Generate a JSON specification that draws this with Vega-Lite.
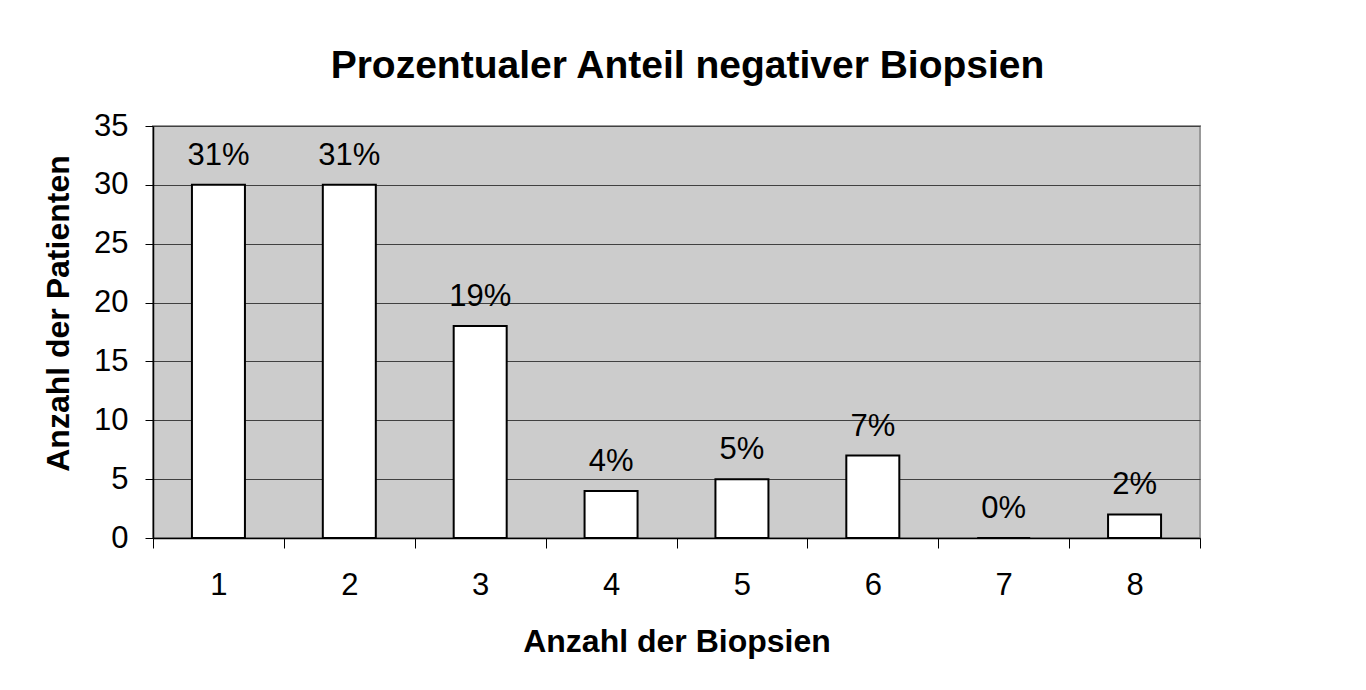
{
  "$schema": "https://vega.github.io/schema/vega-lite/v6.json",
  "width": 1047,
  "height": 412,
  "autosize": {"type": "none"},
  "padding": {"left": 153, "top": 126, "right": 166, "bottom": 152},
  "background": "white",
  "title": {
    "text": "Prozentualer Anteil negativer Biopsien",
    "font": "Liberation Sans",
    "fontSize": 39,
    "fontWeight": "bold",
    "color": "black",
    "anchor": "middle",
    "dx": 11,
    "offset": 24
  },
  "config": {
    "view": {"fill": "#cccccc", "stroke": "#999999", "strokeWidth": 2},
    "axis": {
      "labelFont": "Liberation Sans",
      "titleFont": "Liberation Sans",
      "labelColor": "black",
      "titleColor": "black",
      "domainColor": "black",
      "tickColor": "black",
      "labelFontSize": 31,
      "titleFontSize": 32,
      "titleFontWeight": "bold"
    }
  },
  "data": {
    "values": [
      {"n": 1, "count": 30, "pct": "31%"},
      {"n": 2, "count": 30, "pct": "31%"},
      {"n": 3, "count": 18, "pct": "19%"},
      {"n": 4, "count": 4, "pct": "4%"},
      {"n": 5, "count": 5, "pct": "5%"},
      {"n": 6, "count": 7, "pct": "7%"},
      {"n": 7, "count": 0, "pct": "0%"},
      {"n": 8, "count": 2, "pct": "2%"}
    ]
  },
  "resolve": {"axis": {"x": "independent"}},
  "layer": [
    {
      "mark": {"type": "bar", "fill": "white", "stroke": "black", "strokeWidth": 2, "size": 53},
      "encoding": {
        "x": {
          "field": "n", "type": "quantitative",
          "scale": {"domain": [0.5, 8.5], "nice": false, "zero": false, "padding": 0},
          "axis": {
            "orient": "bottom",
            "values": [0.5, 1.5, 2.5, 3.5, 4.5, 5.5, 6.5, 7.5, 8.5],
            "labels": false, "ticks": true, "tickSize": 10, "tickWidth": 1,
            "domain": true, "domainWidth": 1.5, "grid": false, "title": null
          }
        },
        "y": {
          "field": "count", "type": "quantitative",
          "scale": {"domain": [0, 35], "nice": false},
          "axis": {
            "values": [0, 5, 10, 15, 20, 25, 30, 35],
            "grid": true, "gridColor": "#404040", "gridWidth": 1, "gridOpacity": 1,
            "tickSize": 8, "labelPadding": 17, "domainWidth": 1.5,
            "title": "Anzahl der Patienten", "titlePadding": 18, "titleY": 187
          }
        }
      }
    },
    {
      "mark": {"type": "text", "fontSize": 31, "font": "Liberation Sans", "color": "black", "baseline": "alphabetic", "dy": -20},
      "encoding": {
        "x": {
          "field": "n", "type": "quantitative",
          "axis": {
            "orient": "bottom",
            "values": [1, 2, 3, 4, 5, 6, 7, 8],
            "ticks": false, "domain": false, "grid": false,
            "labelPadding": 32,
            "title": "Anzahl der Biopsien", "titlePadding": 26
          }
        },
        "y": {"field": "count", "type": "quantitative"},
        "text": {"field": "pct"}
      }
    }
  ]
}
